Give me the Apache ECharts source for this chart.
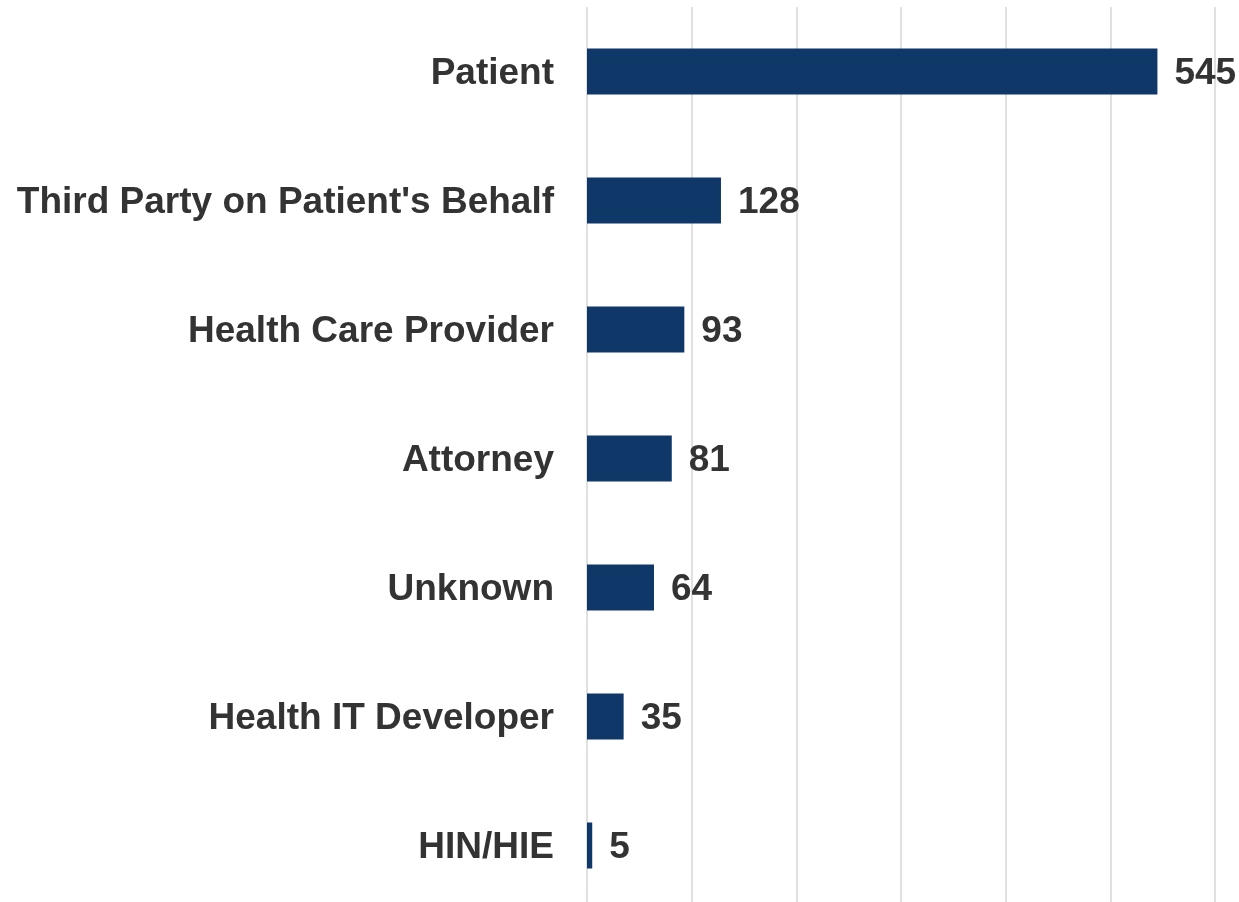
<!DOCTYPE html>
<html>
<head>
<meta charset="utf-8">
<script src="https://cdn.jsdelivr.net/npm/echarts@6/dist/echarts.min.js"></script>
<style>
  html, body { margin: 0; padding: 0; background: #ffffff; overflow: hidden; }
  #chart { width: 1239px; height: 910px; }
</style>
</head>
<body>
<div id="chart"></div>
<script>
// data
const categories = ["Patient", "Third Party on Patient's Behalf", "Health Care Provider", "Attorney", "Unknown", "Health IT Developer", "HIN/HIE"];
const counts = [545, 128, 93, 81, 64, 35, 5];

// chart is a bit taller than the window so the last band gets cut like the original
const myChart = echarts.init(document.getElementById('chart'));

const labelFont = {
    color: '#333333',
    fontFamily: 'Liberation Sans',
    fontWeight: 'bold',
    fontSize: 37
};

const option = {
    backgroundColor: '#ffffff',
    animation: false,
    grid: {
        left: 587,
        right: 24,
        top: 7,
        bottom: 0,
        containLabel: false
    },
    xAxis: {
        type: 'value',
        min: 0,
        max: 600,
        interval: 100,
        axisLabel: { show: false },
        axisLine: { show: false },
        axisTick: { show: false },
        splitLine: {
            show: true,
            lineStyle: { color: '#e0e0e0', width: 2 }
        }
    },
    yAxis: {
        type: 'category',
        data: categories,
        inverse: true,
        axisLine: { show: false },
        axisTick: { show: false },
        axisLabel: {
            margin: 33,
            formatter: (v) => '{c|' + v + '}',
            rich: {
                c: Object.assign({ padding: [5, 0, 0, 0] }, labelFont)
            }
        }
    },
    series: [{
        type: 'bar',
        data: counts,
        barWidth: 46,
        itemStyle: { color: '#0f3868' },
        label: Object.assign({
            show: true,
            position: 'right',
            distance: 17,
            offset: [0, 2]
        }, labelFont)
    }]
};

myChart.setOption(option);
</script>
</body>
</html>
